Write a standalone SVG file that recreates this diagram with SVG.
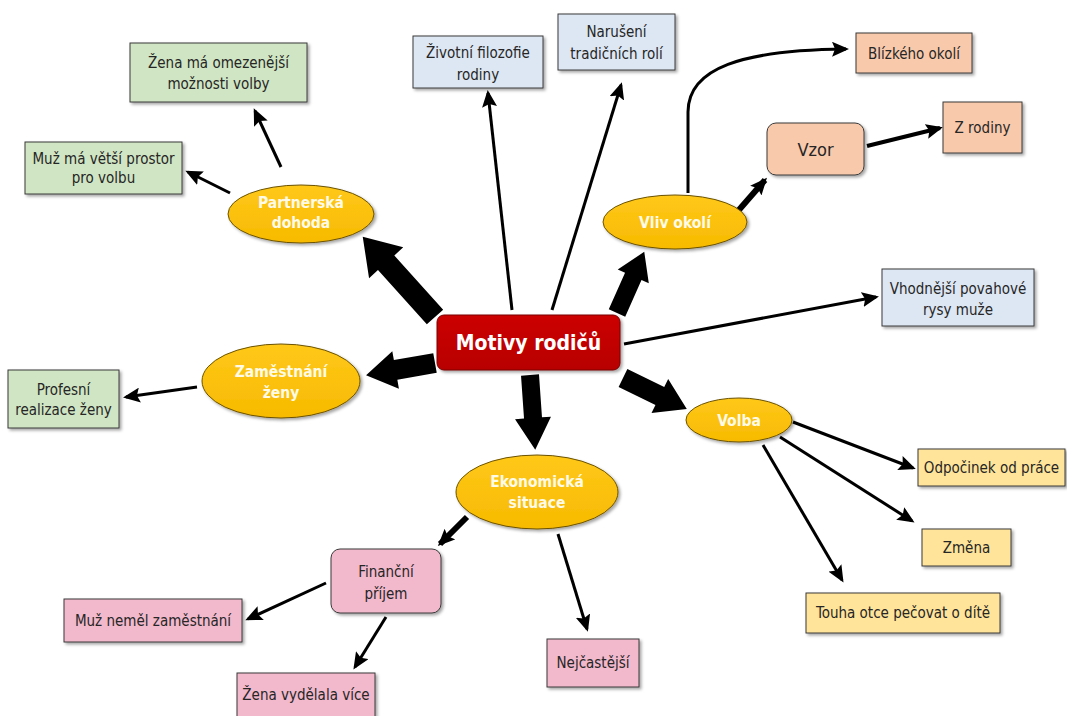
<svg xmlns="http://www.w3.org/2000/svg" width="1067" height="716" viewBox="0 0 1067 716">
  <style>
    .box { stroke: #3a3a3a; stroke-width: 1; filter: url(#shadow); }
    .green { fill: #d0e5c3; }
    .blue { fill: #dde6f3; }
    .peach { fill: #f8c9ab; }
    .yellow { fill: #ffe49a; }
    .pink { fill: #f2b8cc; }
    .oval { fill: url(#gold); stroke: #6b5200; stroke-width: 1; filter: url(#shadow); }
    .t { font-family: "Liberation Sans Narrow", "DejaVu Sans Condensed", "Liberation Sans", sans-serif; font-size: 15px; fill: #262626; text-anchor: middle; }
    .ot { font-family: "Liberation Sans Narrow", "DejaVu Sans Condensed", "Liberation Sans", sans-serif; font-size: 15.5px; font-weight: bold; fill: #fffbe8; text-anchor: middle; }
    .line { fill: none; stroke: #000; stroke-width: 3; marker-end: url(#head); }
    .block { fill: #000; }
  </style>
  <defs>
    <filter id="shadow" x="-10%" y="-10%" width="130%" height="140%">
      <feDropShadow dx="2" dy="2" stdDeviation="1.5" flood-color="#000" flood-opacity="0.35"/>
    </filter>
    <linearGradient id="gold" x1="0" y1="0" x2="0" y2="1">
      <stop offset="0" stop-color="#ffc81a"/>
      <stop offset="1" stop-color="#f7ba00"/>
    </linearGradient>
    <linearGradient id="red" x1="0" y1="0" x2="0" y2="1">
      <stop offset="0" stop-color="#cc0000"/>
      <stop offset="1" stop-color="#b80000"/>
    </linearGradient>
    <marker id="head" markerUnits="userSpaceOnUse" markerWidth="17" markerHeight="15" refX="14" refY="7.5" orient="auto">
      <path d="M0,0 L17,7.5 L0,15 L3,7.5 z" fill="#000"/>
    </marker>
  </defs>

  <!-- connectors -->
  <g id="connectors">
    <!-- thick block arrows out of the centre -->
    <path class="block" transform="translate(435,317) rotate(-132)" d="M0,-11 L73,-11 L73,-23 L108,0 L73,23 L73,11 L0,11 z"/>
    <path class="block" transform="translate(617,313) rotate(-66)" d="M0,-9 L40,-9 L40,-17 L67,0 L40,17 L40,9 L0,9 z"/>
    <path class="block" transform="translate(435,363) rotate(170)" d="M0,-10 L40,-10 L40,-19 L70,0 L40,19 L40,10 L0,10 z"/>
    <path class="block" transform="translate(530,375) rotate(86)" d="M0,-9 L43,-9 L43,-18 L75,0 L43,18 L43,9 L0,9 z"/>
    <path class="block" transform="translate(623,378) rotate(26)" d="M0,-10 L41,-10 L41,-19 L71,0 L41,19 L41,10 L0,10 z"/>

    <!-- thin arrows -->
    <path class="line" d="M281,167 L255,111"/>
    <path class="line" d="M230,193 L188,172"/>
    <path class="line" d="M197,387 L126,397"/>
    <path class="line" d="M512,310 L488,93"/>
    <path class="line" d="M552,310 L621,85"/>
    <path class="line" d="M688,193 L688,112 C688,68 742,50 846,49"/>
    <path class="line" d="M867,146 L940,128" style="stroke-width:4"/>
    <path class="line" d="M738,211 L765,180" style="stroke-width:6"/>
    <path class="line" d="M624,344 L876,297"/>
    <path class="line" d="M793,422 L913,468"/>
    <path class="line" d="M780,437 L912,521"/>
    <path class="line" d="M763,445 L842,580"/>
    <path class="line" d="M467,517 L440,544" style="stroke-width:6"/>
    <path class="line" d="M558,534 L587,629"/>
    <path class="line" d="M326,583 L248,619"/>
    <path class="line" d="M386,617 L355,667"/>
  </g>

  <!-- centre -->
  <g id="motivy">
    <rect x="437" y="315" width="183" height="55" rx="7" fill="url(#red)" stroke="#7a0000" stroke-width="1" filter="url(#shadow)"/>
    <text x="528.5" y="350" font-family="Liberation Sans Narrow, DejaVu Sans Condensed, Liberation Sans, sans-serif" font-size="21" font-weight="bold" fill="#ffffff" text-anchor="middle">Motivy rodičů</text>
  </g>

  <!-- first-level ovals -->
  <g id="partnerska">
    <ellipse class="oval" cx="301" cy="214" rx="73" ry="29"/>
    <text class="ot" x="301" y="208">Partnerská</text>
    <text class="ot" x="301" y="228">dohoda</text>
  </g>
  <g id="zamestnani">
    <ellipse class="oval" cx="281" cy="381" rx="79" ry="37"/>
    <text class="ot" x="281" y="377">Zaměstnání</text>
    <text class="ot" x="281" y="398">ženy</text>
  </g>
  <g id="vliv">
    <ellipse class="oval" cx="675" cy="222" rx="72" ry="27"/>
    <text class="ot" x="675" y="228">Vliv okolí</text>
  </g>
  <g id="volba">
    <ellipse class="oval" cx="739" cy="420" rx="53" ry="22"/>
    <text class="ot" x="739" y="426">Volba</text>
  </g>
  <g id="ekonomicka">
    <ellipse class="oval" cx="537" cy="492" rx="81" ry="37"/>
    <text class="ot" x="537" y="487">Ekonomická</text>
    <text class="ot" x="537" y="508">situace</text>
  </g>

  <!-- leaf boxes -->
  <g id="zena-omezenejsi">
    <rect class="box green" x="130" y="43" width="177" height="59"/>
    <text class="t" x="218.5" y="68">Žena má omezenější</text>
    <text class="t" x="218.5" y="89">možnosti volby</text>
  </g>
  <g id="muz-vetsi">
    <rect class="box green" x="25" y="142" width="157" height="52"/>
    <text class="t" x="103.5" y="164">Muž má větší prostor</text>
    <text class="t" x="103.5" y="183">pro volbu</text>
  </g>
  <g id="profesni">
    <rect class="box green" x="8" y="370" width="111" height="58"/>
    <text class="t" x="63.5" y="395">Profesní</text>
    <text class="t" x="63.5" y="415">realizace ženy</text>
  </g>
  <g id="zivotni">
    <rect class="box blue" x="413" y="36" width="130" height="52"/>
    <text class="t" x="478" y="58">Životní filozofie</text>
    <text class="t" x="478" y="80">rodiny</text>
  </g>
  <g id="naruseni">
    <rect class="box blue" x="558" y="14" width="117" height="56"/>
    <text class="t" x="616.5" y="37">Narušení</text>
    <text class="t" x="616.5" y="59">tradičních rolí</text>
  </g>
  <g id="blizkeho">
    <rect class="box peach" x="856" y="33" width="116" height="40"/>
    <text class="t" x="914" y="59">Blízkého okolí</text>
  </g>
  <g id="vzor">
    <rect class="box peach" x="767" y="123" width="97" height="52" rx="9"/>
    <text class="t" x="815.5" y="156" style="font-size:18px">Vzor</text>
  </g>
  <g id="z-rodiny">
    <rect class="box peach" x="943" y="102" width="79" height="51"/>
    <text class="t" x="982.5" y="133">Z rodiny</text>
  </g>
  <g id="vhodnejsi">
    <rect class="box blue" x="882" y="269" width="152" height="57"/>
    <text class="t" x="958" y="294">Vhodnější povahové</text>
    <text class="t" x="958" y="315">rysy muže</text>
  </g>
  <g id="odpocinek">
    <rect class="box yellow" x="918" y="449" width="147" height="37"/>
    <text class="t" x="991.5" y="473">Odpočinek od práce</text>
  </g>
  <g id="zmena">
    <rect class="box yellow" x="922" y="529" width="89" height="37"/>
    <text class="t" x="966.5" y="553">Změna</text>
  </g>
  <g id="touha">
    <rect class="box yellow" x="806" y="593" width="194" height="40"/>
    <text class="t" x="903" y="618">Touha otce pečovat o dítě</text>
  </g>
  <g id="financni">
    <rect class="box pink" x="331" y="549" width="110" height="64" rx="9"/>
    <text class="t" x="386" y="577">Finanční</text>
    <text class="t" x="386" y="599">příjem</text>
  </g>
  <g id="muz-nemel">
    <rect class="box pink" x="64" y="599" width="178" height="43"/>
    <text class="t" x="153" y="626">Muž neměl zaměstnání</text>
  </g>
  <g id="zena-vydelala">
    <rect class="box pink" x="237" y="673" width="138" height="46"/>
    <text class="t" x="306" y="700">Žena vydělala více</text>
  </g>
  <g id="nejcastejsi">
    <rect class="box pink" x="547" y="639" width="92" height="48"/>
    <text class="t" x="593" y="668">Nejčastější</text>
  </g>
</svg>
